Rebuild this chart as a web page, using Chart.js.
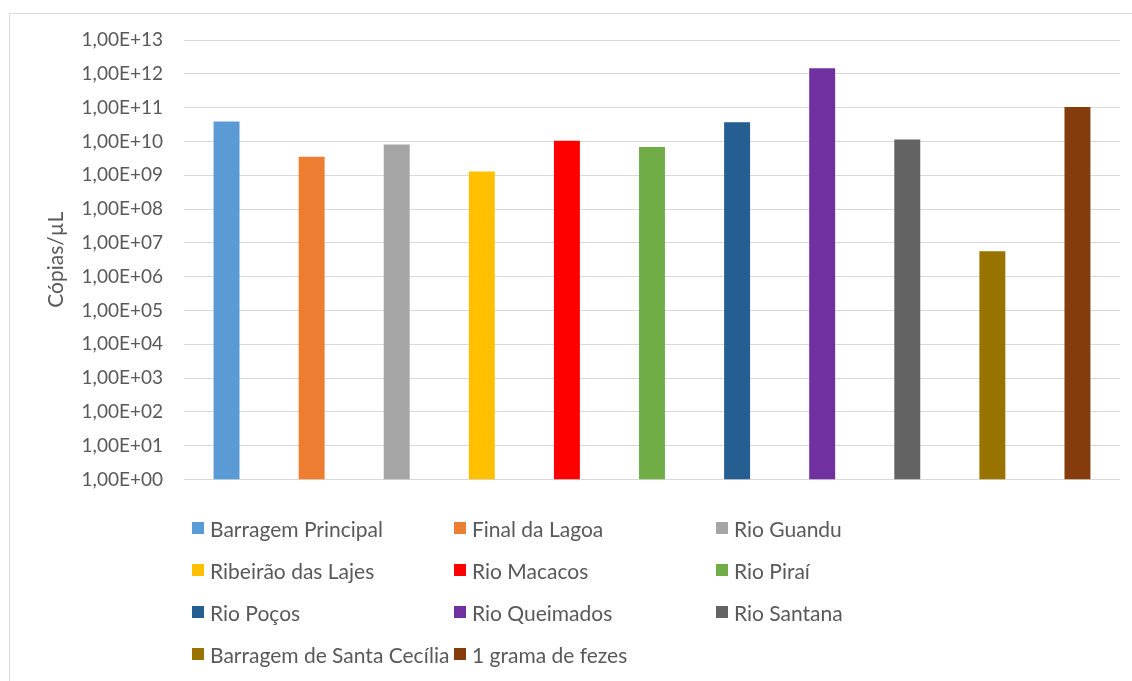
<!DOCTYPE html>
<html>
<head>
<meta charset="utf-8">
<script src="https://cdn.jsdelivr.net/npm/chart.js@4.4.1/dist/chart.umd.min.js"></script>
<style>
  html, body { margin: 0; padding: 0; background: #fff; }
  body { width: 1132px; height: 681px; overflow: hidden; position: relative; font-family: Lato, "Open Sans", sans-serif; }
  #frame { position: absolute; left: 9px; top: 13px; width: 1140px; height: 700px; border: 1px solid #d9d9d9; }
  #wrap { position: absolute; left: 0; top: 0; width: 1132px; height: 512px; }
  #legend { position: absolute; left: 192px; top: 507px; display: grid;
            grid-template-columns: 262px 262px 262px; grid-auto-rows: 42px; }
  #legend .item { display: flex; align-items: center; white-space: nowrap; font-size: 21px; color: #595959; }
  #legend .box { width: 12px; height: 12px; margin-right: 6px; flex: none; }
</style>
</head>
<body>
<div id="frame"></div>
<div id="wrap"><canvas id="chart"></canvas></div>
<div id="legend"></div>
<script>
const sites = [
  'Barragem Principal', 'Final da Lagoa', 'Rio Guandu',
  'Ribeirão das Lajes', 'Rio Macacos', 'Rio Piraí',
  'Rio Poços', 'Rio Queimados', 'Rio Santana',
  'Barragem de Santa Cecília', '1 grama de fezes'
];
const copias = [3.9e10, 3.5e9, 8.1e9, 1.3e9, 1.05e10, 6.8e9, 3.7e10, 1.45e12, 1.14e10, 5.7e6, 1.05e11];
const colors = ['#5B9BD5', '#ED7D31', '#A5A5A5', '#FFC000', '#FF0000', '#70AD47',
                '#255E91', '#7030A0', '#636363', '#997300', '#843C0C'];
const tickPowers = [0, 1, 2, 3, 4, 5, 6, 7, 8, 9, 10, 11, 12, 13];

const textColor = '#595959';
const fontFamily = 'Lato, "Open Sans", sans-serif';

new Chart(document.getElementById('chart'), {
  type: 'bar',
  data: {
    labels: sites,
    datasets: [{
      label: 'Cópias/µL',
      data: copias,
      backgroundColor: colors,
      borderWidth: 0,
      categoryPercentage: 1,
      barPercentage: 0.305
    }]
  },
  options: {
    responsive: true,
    maintainAspectRatio: false,
    animation: false,
    layout: { padding: { left: 0, right: 12, top: 40, bottom: 9 } },
    plugins: {
      legend: { display: false },
      tooltip: { enabled: false }
    },
    scales: {
      x: { display: false },
      y: {
        type: 'logarithmic',
        min: 1,
        max: 1e13,
        afterBuildTicks: (scale) => {
          scale.ticks = tickPowers.map(p => ({ value: Math.pow(10, p) }));
        },
        afterFit: (scale) => { scale.width = 184; },
        border: { display: false },
        grid: { color: '#d9d9d9', lineWidth: 1, drawTicks: false },
        ticks: {
          padding: 21,
          color: textColor,
          font: { family: fontFamily, size: 19 },
          callback: (v) => {
            const p = Math.round(Math.log10(v));
            return '1,00E+' + String(p).padStart(2, '0');
          }
        },
        title: {
          display: true,
          text: 'Cópias/µL',
          color: textColor,
          font: { family: fontFamily, size: 21 },
          padding: { top: 44, bottom: 0 }
        }
      }
    }
  }
});

// legend in three columns below the plot
const legend = document.getElementById('legend');
sites.forEach((name, i) => {
  const item = document.createElement('div');
  item.className = 'item';
  const box = document.createElement('span');
  box.className = 'box';
  box.style.background = colors[i];
  item.appendChild(box);
  item.appendChild(document.createTextNode(name));
  legend.appendChild(item);
});
</script>
</body>
</html>
